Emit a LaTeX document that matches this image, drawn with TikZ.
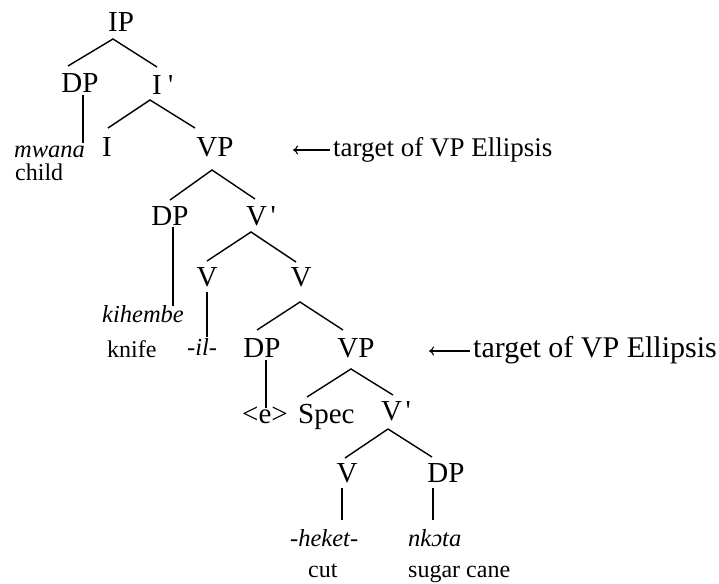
\documentclass[tikz,border=0pt]{standalone}
\usepackage{fontspec}
\setmainfont{Liberation Serif}
\usetikzlibrary{arrows.meta}
\newcommand\strq{\XeTeXglyph\XeTeXcharglyph"27\relax}
\begin{document}
\begin{tikzpicture}[x=1pt,y=-1pt,
  lab/.style={inner sep=0pt, font=\fontsize{29}{31}\selectfont, anchor=base},
  labw/.style={lab, anchor=base west},
  leaf/.style={inner sep=0pt, font=\fontsize{24.5}{26}\selectfont\itshape, anchor=base west},
  gloss/.style={inner sep=0pt, font=\fontsize{24}{26}\selectfont, anchor=base west},
  ann/.style={inner sep=0pt, anchor=base west},
  br/.style={line width=1.4pt},
  arr/.style={line width=1.1pt, -{To[length=5pt,width=9pt]}}]
\useasboundingbox (0,0) rectangle (719,583);
% labels
\node[lab] (ip) at (121,32) {IP};
\node[lab] (dp1) at (80,93) {DP};
\node[labw] (ib) at (152,95) {I\hspace{0.22em}\strq};
\node[lab] (i) at (107,156) {I};
\node[lab] (vp1) at (215,156) {VP};
\node[lab] (dp2) at (170,225) {DP};
\node[labw] (vb2) at (246,225) {V\hspace{0.12em}\strq};
\node[lab] (v1) at (207,286) {V};
\node[lab] (v2) at (301,286) {V};
\node[lab] (dp3) at (262,357) {DP};
\node[lab] (vp2) at (356,357) {VP};
\node[labw] (e) at (242,423) {<e>};
\node[labw] (spec) at (298,423) {Spec};
\node[labw] (vb3) at (381,420) {V\hspace{0.12em}\strq};
\node[lab] (v3) at (347,482) {V};
\node[lab] (dp4) at (446,482) {DP};
% leaves
\node[leaf] (mwana) at (14,157) {mwana};
\node[gloss] (child) at (15,180) {child};
\node[leaf] (kihembe) at (102,322) {kihembe};
\node[gloss] (knife) at (107,357) {knife};
\node[leaf] (il) at (187,355) {-il-};
\node[leaf] (heket) at (290,546) {-heket-};
\node[leaf] (nkota) at (408,546) {nkɔta};
\node[gloss] (cut) at (308,577) {cut};
\node[gloss] (cane) at (408,577) {sugar cane};
% annotations
\node[ann, font=\fontsize{27}{29}\selectfont] (ann1) at (333,156) {target of VP Ellipsis};
\node[ann, font=\fontsize{30}{32}\selectfont] (ann2) at (473,357) {target of VP Ellipsis};
\coordinate (a1) at (293,150);
\coordinate (a2) at (429,351);
\draw[arr] ([shift={(-3,-6)}]ann1.base west) -- (a1);
\draw[arr] ([shift={(-3,-6)}]ann2.base west) -- (a2);
% branch points
\coordinate (ipx) at (113,39);
\coordinate (dp1t) at (68,66);
\coordinate (ibt) at (157,67);
\coordinate (ibx) at (150,100);
\coordinate (it) at (108,128);
\coordinate (vp1t) at (195,128);
\coordinate (vp1x) at (212,170);
\coordinate (dp2t) at (170,200);
\coordinate (vb2t) at (255,199);
\coordinate (vb2x) at (251,232);
\coordinate (v1t) at (207,261);
\coordinate (v2t) at (296,262);
\coordinate (v2x) at (300,302);
\coordinate (dp3t) at (257,330);
\coordinate (vp2t) at (343,330);
\coordinate (vp2x) at (351,369);
\coordinate (spect) at (307,397);
\coordinate (vb3t) at (393,395);
\coordinate (vb3x) at (388,429);
\coordinate (v3t) at (345,458);
\coordinate (dp4t) at (432,457);
\coordinate (dp1b) at (83,95);
\coordinate (mwanat) at (83,143);
\coordinate (dp2b) at (173,227);
\coordinate (kihembet) at (173,306);
\coordinate (v1b) at (207,292);
\coordinate (ilt) at (207,337);
\coordinate (dp3b) at (266,360);
\coordinate (et) at (266,408);
\coordinate (v3b) at (342,488);
\coordinate (heket) at (342,520);
\coordinate (dp4b) at (433,488);
\coordinate (nkotat) at (433,520);
% branches
\draw[br] (dp1t) -- (ipx) -- (ibt);
\draw[br] (it) -- (ibx) -- (vp1t);
\draw[br] (dp2t) -- (vp1x) -- (vb2t);
\draw[br] (v1t) -- (vb2x) -- (v2t);
\draw[br] (dp3t) -- (v2x) -- (vp2t);
\draw[br] (spect) -- (vp2x) -- (vb3t);
\draw[br] (v3t) -- (vb3x) -- (dp4t);
\draw[br] (dp1b) -- (mwanat);
\draw[br] (dp2b) -- (kihembet);
\draw[br] (v1b) -- (ilt);
\draw[br] (dp3b) -- (et);
\draw[br] (v3b) -- (heket);
\draw[br] (dp4b) -- (nkotat);
\end{tikzpicture}
\end{document}
